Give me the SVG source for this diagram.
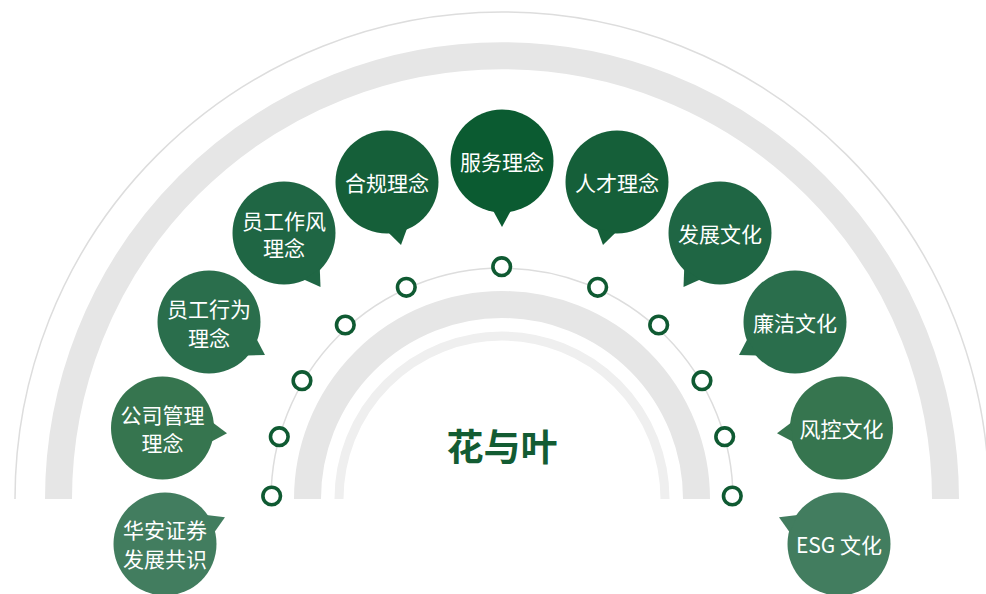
<svg xmlns="http://www.w3.org/2000/svg" width="986" height="594" viewBox="0 0 986 594">
<style>
.bg{fill:none;stroke-linecap:butt}
.thin{stroke:#DDDDDD;stroke-width:1.5}
.band{stroke:#E6E6E6;stroke-width:27}
.lite{stroke:#EFEFEF;stroke-width:9}
.ring{fill:#FFFFFF;stroke:#0F5A32;stroke-width:3.6}
.lbl{font-family:"Noto Sans CJK SC","Noto Sans",sans-serif;font-size:21px;fill:#FFFFFF;text-anchor:middle;dominant-baseline:central}
.title{font-family:"Noto Sans CJK SC","Noto Sans",sans-serif;font-size:37px;font-weight:bold;fill:#135C33;text-anchor:middle;dominant-baseline:central}
.t0{fill:#0B5B31}.t1{fill:#155F39}.t2{fill:#1F6644}.t3{fill:#2A6E4C}.t4{fill:#36754F}.t5{fill:#427D5F}
</style>
<g id="arcs">
<path class="bg thin" d="M15,499 A487,487 0 0 1 989,499"/>
<path class="bg band" d="M58.5,499 A443.5,443.5 0 0 1 945.5,499"/>
<path class="bg band" d="M307.5,499 A194.5,194.5 0 0 1 696.5,499"/>
<path class="bg lite" d="M339,499 A163,163 0 0 1 665,499"/>
</g>
<g id="connectors">
<path class="bg thin" d="M271,499 A231,231 0 0 1 733,499"/>
<circle class="ring" cx="271.7" cy="496" r="8.8"/>
<circle class="ring" cx="279.3" cy="436.7" r="8.8"/>
<circle class="ring" cx="302" cy="380.7" r="8.8"/>
<circle class="ring" cx="345.3" cy="325" r="8.8"/>
<circle class="ring" cx="406.3" cy="287.3" r="8.8"/>
<circle class="ring" cx="501.7" cy="266.7" r="8.8"/>
<circle class="ring" cx="597.7" cy="287.3" r="8.8"/>
<circle class="ring" cx="658.7" cy="325" r="8.8"/>
<circle class="ring" cx="702" cy="380.7" r="8.8"/>
<circle class="ring" cx="724.7" cy="436.7" r="8.8"/>
<circle class="ring" cx="732.3" cy="496" r="8.8"/>
</g>
<g id="center">
<text class="title" x="502" y="445">花与叶</text>
</g>
<g id="node-fuwu" class="t0">
<circle cx="502" cy="161" r="51.5"/>
<polygon points="493,210.5 502,227 511,210.5"/>
<text class="lbl" x="502" y="161">服务理念</text>
</g>
<g id="node-hegui" class="t1">
<circle cx="387" cy="182" r="51.5"/>
<polygon points="388.3,232.5 401,245 407.1,228.3"/>
<text class="lbl" x="387" y="182">合规理念</text>
</g>
<g id="node-rencai" class="t1">
<circle cx="617" cy="182" r="51.5"/>
<polygon points="615.7,232.5 603,245 596.9,228.3"/>
<text class="lbl" x="617" y="182">人才理念</text>
</g>
<g id="node-zuofeng" class="t2">
<circle cx="284" cy="233" r="51.5"/>
<polygon points="303.8,279.4 320.5,287 319.8,268.7"/>
<text class="lbl" x="284" y="219.5">员工作风</text>
<text class="lbl" x="284" y="247">理念</text>
</g>
<g id="node-fazhan" class="t2">
<circle cx="720" cy="233" r="51.5"/>
<polygon points="700.2,279.4 683.5,287 684.2,268.7"/>
<text class="lbl" x="720" y="233">发展文化</text>
</g>
<g id="node-xingwei" class="t3">
<circle cx="209" cy="322" r="51.5"/>
<polygon points="256.6,338.9 265,355 246.8,355.5"/>
<text class="lbl" x="209" y="308">员工行为</text>
<text class="lbl" x="209" y="337">理念</text>
</g>
<g id="node-lianjie" class="t3">
<circle cx="795" cy="322" r="51.5"/>
<polygon points="747.4,338.9 739,355 757.2,355.5"/>
<text class="lbl" x="795" y="322">廉洁文化</text>
</g>
<g id="node-guanli" class="t4">
<circle cx="162.5" cy="428" r="51.5"/>
<polygon points="212.7,422.5 227,433.3 211.1,441.7"/>
<text class="lbl" x="162.5" y="413.5">公司管理</text>
<text class="lbl" x="162.5" y="442">理念</text>
</g>
<g id="node-fengkong" class="t4">
<circle cx="841.5" cy="428" r="51.5"/>
<polygon points="791.3,422.5 777,433.3 792.9,441.7"/>
<text class="lbl" x="841.5" y="428">风控文化</text>
</g>
<g id="node-gongshi" class="t5">
<circle cx="165" cy="544" r="51.5"/>
<polygon points="206.4,515 225,517.3 214.2,532.6"/>
<text class="lbl" x="165" y="528.5">华安证券</text>
<text class="lbl" x="165" y="558">发展共识</text>
</g>
<g id="node-esg" class="t5">
<circle cx="839" cy="544" r="51.5"/>
<polygon points="797.6,515 779,517.3 789.8,532.6"/>
<text class="lbl" x="839" y="544">ESG 文化</text>
</g>
</svg>
